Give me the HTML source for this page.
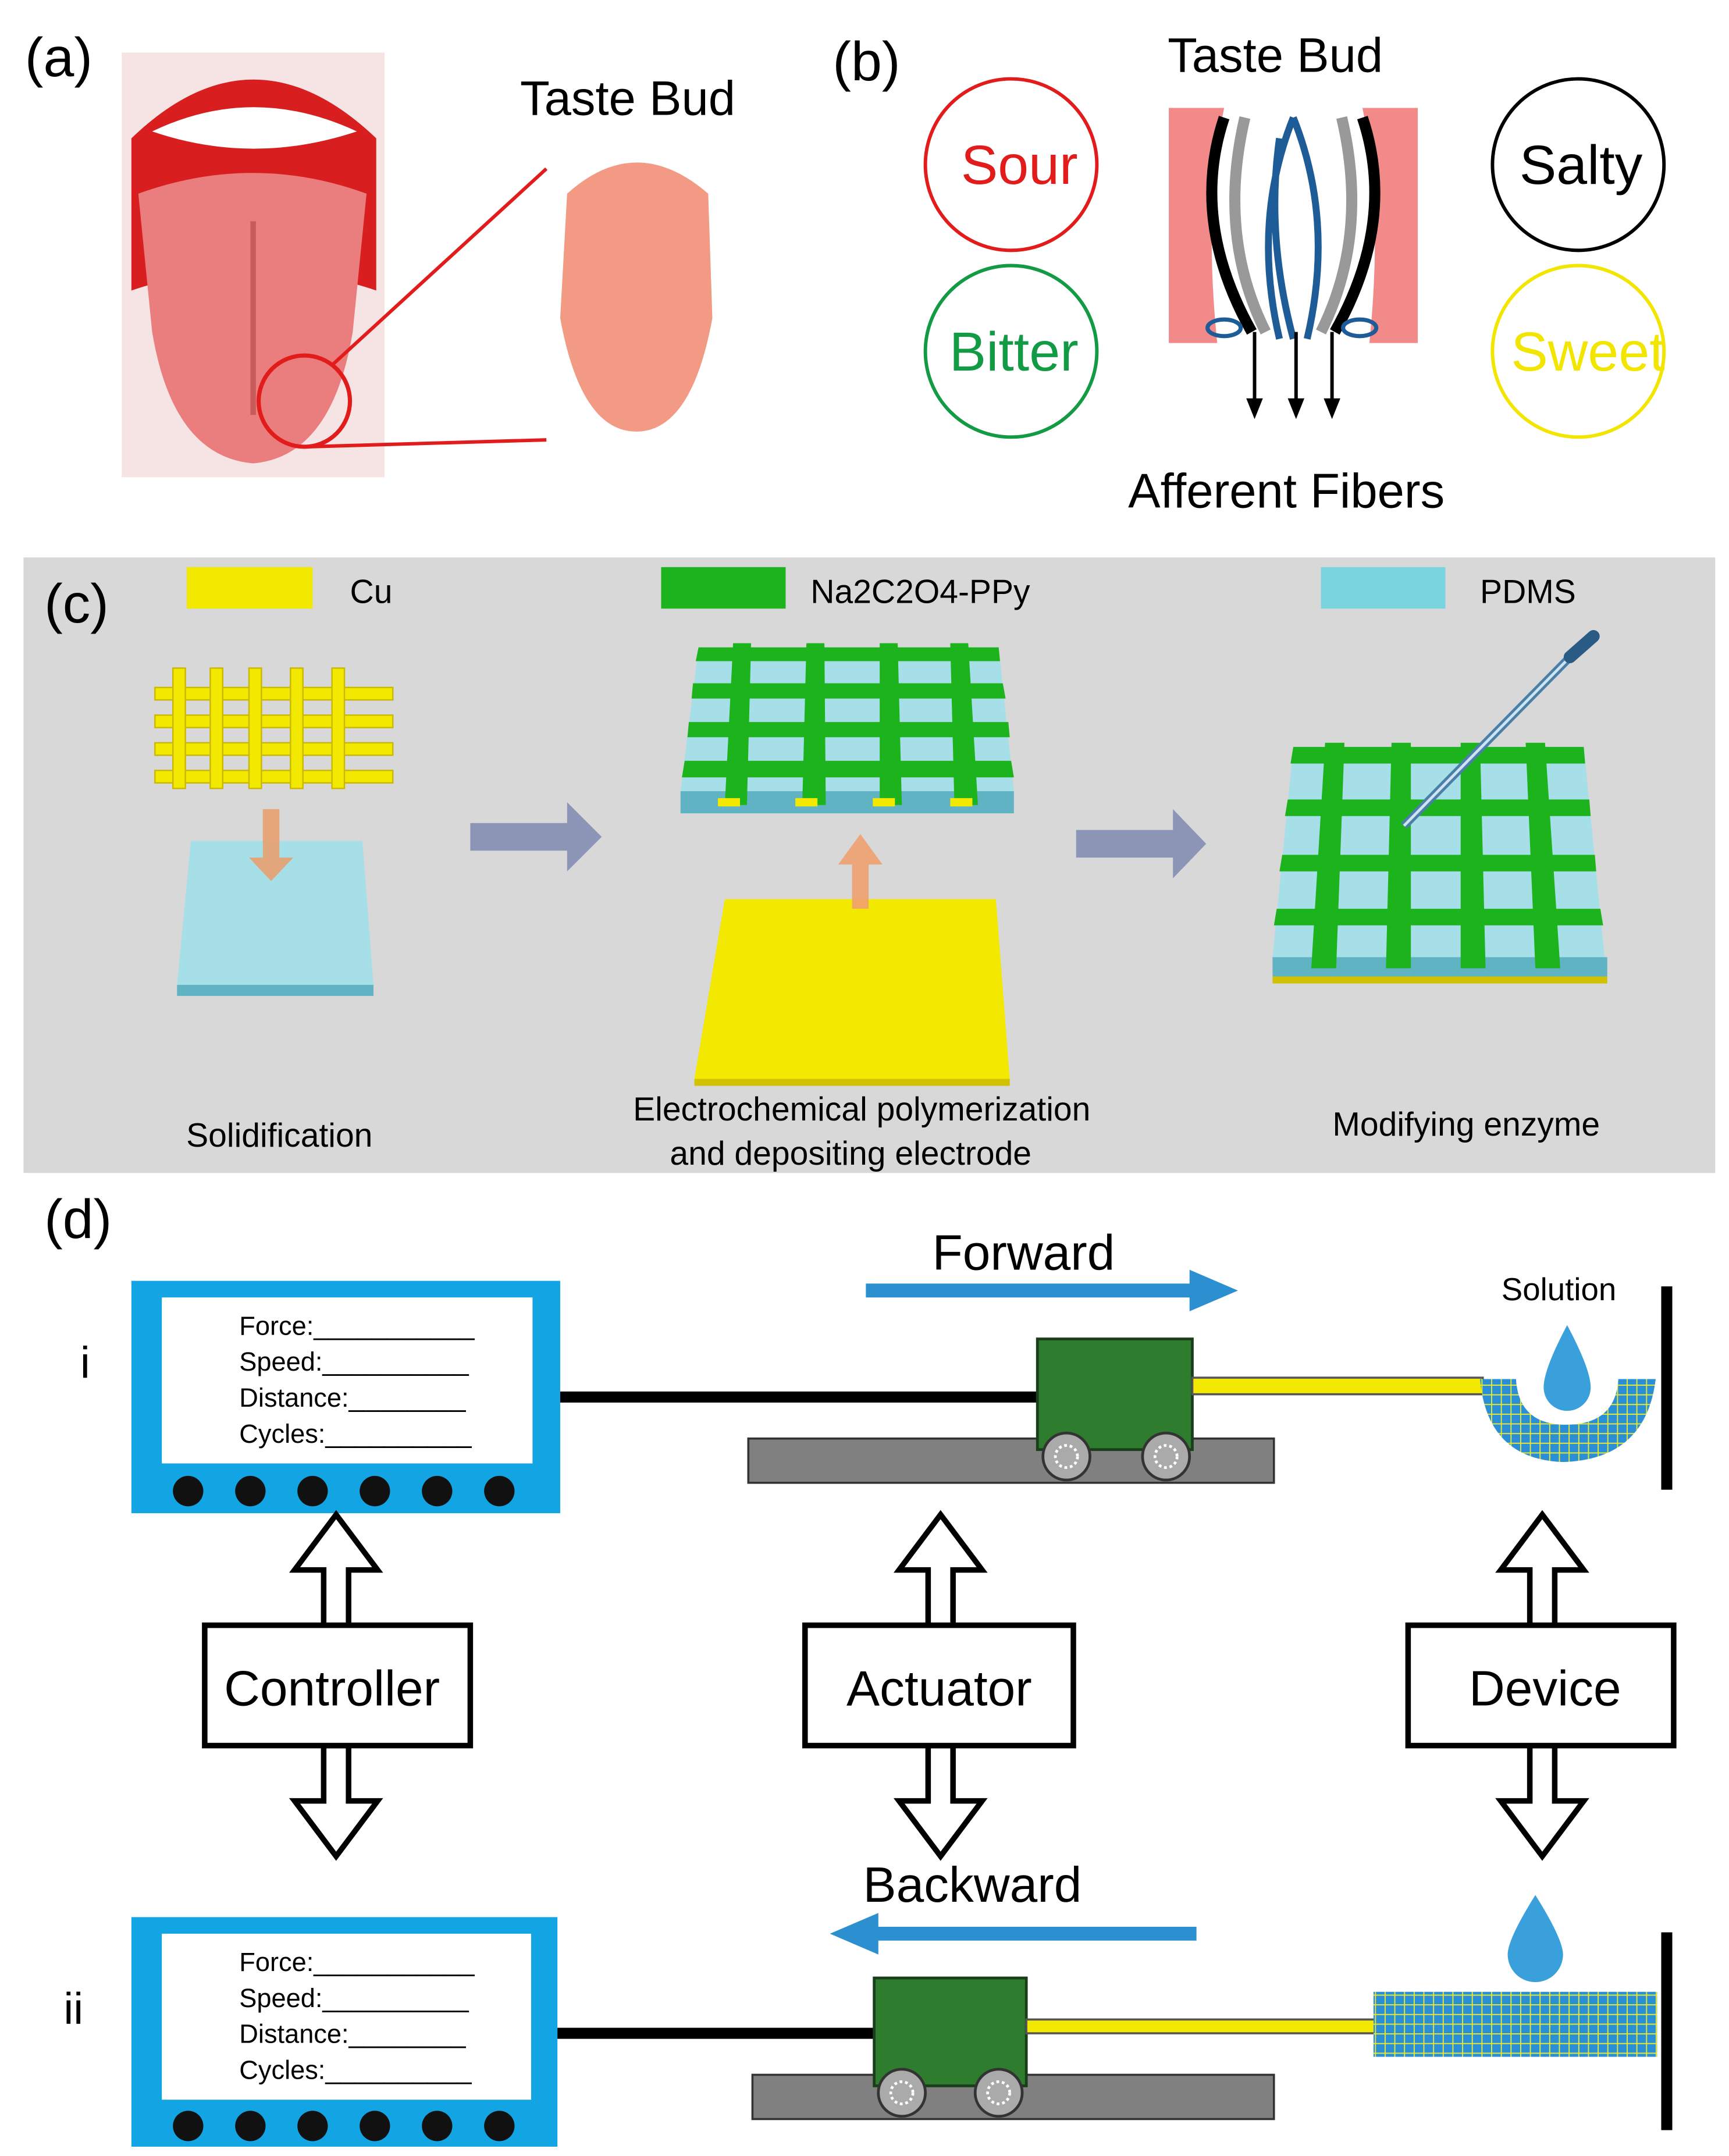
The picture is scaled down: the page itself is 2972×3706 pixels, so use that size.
<!DOCTYPE html>
<html><head><meta charset="utf-8"><style>html,body{margin:0;padding:0;background:#fff}svg{display:block}text{font-family:"Liberation Sans",Arial,sans-serif}</style></head><body>
<svg width="2972" height="3706" viewBox="0 0 1250 1558.7" xmlns="http://www.w3.org/2000/svg">
<defs>
<pattern id="mesh" width="7" height="7" patternUnits="userSpaceOnUse"><rect width="7" height="7" fill="#2a8fd6"/><path d="M0 0H7M0 0V7" stroke="#e8e830" stroke-width="1.6"/></pattern>
<g id="dblu"><path d="M0 0 L30 40 L9 40 L9 80 L-9 80 L-9 40 L-30 40 Z" fill="#fff" stroke="#000" stroke-width="4" stroke-linejoin="miter"/></g>
</defs>
<!-- (a) -->
<text x="18" y="55" font-size="40">(a)</text>
<rect x="88" y="38" width="190" height="307" fill="#f6e4e4"/>
<path d="M95 100 Q183 15 272 100 L272 210 Q183 180 95 210Z" fill="#d81e1e"/>
<path d="M110 95 Q183 60 258 95 Q183 120 110 95Z" fill="#fff"/>
<path d="M100 140 Q183 110 265 140 L255 240 Q240 330 183 335 Q125 330 110 240Z" fill="#ea7d7d"/>
<path d="M183 160 L183 300" stroke="#c85a5a" stroke-width="4"/>
<circle cx="220" cy="290" r="33" fill="none" stroke="#e21b1b" stroke-width="3"/>
<line x1="240" y1="264" x2="395" y2="122" stroke="#e21b1b" stroke-width="2.5"/>
<line x1="222" y1="323" x2="395" y2="318" stroke="#e21b1b" stroke-width="2.5"/>
<path d="M410 140 Q460 95 512 140 L515 230 Q500 312 460 312 Q420 312 405 230Z" fill="#f29a84"/>
<text x="376" y="83" font-size="35">Taste Bud</text>
<!-- (b) -->
<text x="602" y="58" font-size="40">(b)</text>
<circle cx="731" cy="119" r="62" fill="none" stroke="#e21b1b" stroke-width="2.5"/>
<text x="737" y="133" font-size="40" fill="#e21b1b" text-anchor="middle">Sour</text>
<circle cx="731" cy="254" r="62" fill="none" stroke="#129a44" stroke-width="2.5"/>
<text x="733" y="268" font-size="40" fill="#129a44" text-anchor="middle">Bitter</text>
<circle cx="1141" cy="119" r="62" fill="none" stroke="#000" stroke-width="2.5"/>
<text x="1143" y="133" font-size="40" text-anchor="middle">Salty</text>
<circle cx="1141" cy="254" r="62" fill="none" stroke="#f2e600" stroke-width="2.5"/>
<text x="1148" y="268" font-size="40" fill="#f2e600" text-anchor="middle">Sweet</text>
<text x="922" y="52" font-size="35" text-anchor="middle">Taste Bud</text>
<path d="M845 78 L885 78 Q870 150 880 248 L845 248Z" fill="#f28a8a"/>
<path d="M1025 78 L985 78 Q1000 150 990 248 L1025 248Z" fill="#f28a8a"/>
<path d="M885 85 Q860 160 905 240" stroke="#000" stroke-width="8" fill="none"/>
<path d="M985 85 Q1010 160 965 240" stroke="#000" stroke-width="8" fill="none"/>
<path d="M900 85 Q880 170 915 240" stroke="#999" stroke-width="8" fill="none"/>
<path d="M970 85 Q990 170 955 240" stroke="#999" stroke-width="8" fill="none"/>
<path d="M935 85 Q905 160 925 245 M935 85 Q965 160 945 245 M925 100 Q915 170 935 245" stroke="#1d5c96" stroke-width="5" fill="none"/>
<ellipse cx="885" cy="237" rx="12" ry="6" fill="none" stroke="#1d5c96" stroke-width="3"/>
<ellipse cx="983" cy="237" rx="12" ry="6" fill="none" stroke="#1d5c96" stroke-width="3"/>
<path d="M907 240 V295 M937 240 V295 M963 240 V295" stroke="#000" stroke-width="2.5"/>
<path d="M901 288 L907 303 L913 288Z M931 288 L937 303 L943 288Z M957 288 L963 303 L969 288Z"/>
<text x="930" y="367" font-size="35" text-anchor="middle">Afferent Fibers</text>
<!-- (c) -->
<rect x="17" y="403" width="1223" height="445" fill="#d8d8d8"/>
<text x="32" y="450" font-size="40">(c)</text>
<rect x="135" y="410" width="91" height="30" fill="#f2e800"/><text x="253" y="436" font-size="24">Cu</text>
<rect x="478" y="410" width="90" height="30" fill="#1db31d"/><text x="586" y="436" font-size="24">Na2C2O4-PPy</text>
<rect x="955" y="410" width="90" height="30" fill="#7ad4e0"/><text x="1070" y="436" font-size="24">PDMS</text>
<g fill="#f2e800" stroke="#c8b800" stroke-width="1">
<rect x="112" y="497" width="172" height="9"/><rect x="112" y="517" width="172" height="9"/><rect x="112" y="537" width="172" height="9"/><rect x="112" y="557" width="172" height="9"/>
<rect x="125" y="483" width="9" height="87"/><rect x="152" y="483" width="9" height="87"/><rect x="180" y="483" width="9" height="87"/><rect x="210" y="483" width="9" height="87"/><rect x="240" y="483" width="9" height="87"/></g>
<path d="M138 608 L262 608 L270 712 L128 712Z" fill="#a6dfe8"/>
<rect x="128" y="712" width="142" height="8" fill="#5fb3c2"/>
<path d="M190 585 H202 V620 H212 L196 637 L180 620 H190Z" fill="#e9a070" opacity=".9"/>
<path d="M340 595 H410 V580 L435 605 L410 630 V615 H340Z" fill="#8c95b5"/>
<path d="M778 600 H848 V585 L872 610 L848 635 V620 H778Z" fill="#8c95b5"/>
<path d="M505 468 L722 468 L733 572 L492 572Z" fill="#a6dfe8"/>
<rect x="492" y="572" width="241" height="16" fill="#5fb3c2"/>
<g fill="#1db31d"><path d="M505 468 H722 L723 478 H503Z M501 494 H725 L727 505 H500Z M498 522 H729 L730 533 H497Z M495 550 H731 L733 562 H493Z"/>
<path d="M530 465 H543 L540 582 H524Z M583 465 H596 L597 582 H580Z M636 465 H649 L652 582 H636Z M687 465 H700 L707 582 H690Z"/></g>
<g fill="#f2e800"><rect x="519" y="577" width="16" height="6"/><rect x="575" y="577" width="16" height="6"/><rect x="631" y="577" width="16" height="6"/><rect x="687" y="577" width="16" height="6"/></g>
<path d="M524 650 L720 650 L730 780 L502 780Z" fill="#f2e800"/>
<rect x="502" y="780" width="228" height="5" fill="#d0c200"/>
<path d="M616 657 V625 H606 L622 603 L638 625 H628 V657Z" fill="#f0a070" opacity=".9"/>
<path d="M935 540 L1145 540 L1160 692 L920 692Z" fill="#a6dfe8"/>
<rect x="920" y="692" width="242" height="14" fill="#5fb3c2"/><rect x="920" y="706" width="242" height="5" fill="#d0c200"/>
<g fill="#1db31d"><path d="M935 540 H1145 L1146 552 H933Z M931 578 H1149 L1150 590 H929Z M927 618 H1153 L1154 630 H925Z M923 657 H1157 L1159 669 H921Z"/>
<path d="M958 537 H972 L966 700 H948Z M1006 537 H1020 L1020 700 H1002Z M1056 537 H1070 L1074 700 H1056Z M1103 537 H1117 L1128 700 H1110Z"/></g>
<path d="M1015 597 L1140 470" stroke="#4a7fa8" stroke-width="6"/>
<path d="M1015 597 L1140 470" stroke="#cfe4f2" stroke-width="2"/>
<path d="M1135 475 L1152 460" stroke="#2a5b85" stroke-width="9" stroke-linecap="round"/>
<text x="202" y="829" font-size="24" text-anchor="middle">Solidification</text>
<text x="623" y="810" font-size="24" text-anchor="middle">Electrochemical polymerization</text>
<text x="615" y="842" font-size="24" text-anchor="middle">and depositing electrode</text>
<text x="1060" y="821" font-size="24" text-anchor="middle">Modifying enzyme</text>
<!-- (d) -->
<text x="32" y="895" font-size="40">(d)</text>
<text x="58" y="996" font-size="32">i</text>
<text x="46" y="1463" font-size="32">ii</text>
<rect x="95" y="926" width="310" height="168" fill="#13a5e3"/>
<rect x="117" y="938" width="268" height="120" fill="#fff"/>
<g font-size="19"><text x="173" y="965">Force:___________</text><text x="173" y="991">Speed:__________</text><text x="173" y="1017">Distance:________</text><text x="173" y="1043">Cycles:__________</text></g>
<g fill="#111"><circle cx="136" cy="1078" r="11"/><circle cx="181" cy="1078" r="11"/><circle cx="226" cy="1078" r="11"/><circle cx="271" cy="1078" r="11"/><circle cx="316" cy="1078" r="11"/><circle cx="361" cy="1078" r="11"/></g>
<rect x="405" y="1006" width="345" height="8" fill="#000"/>
<rect x="541" y="1040" width="380" height="32" fill="#808080" stroke="#333" stroke-width="1.5"/>
<rect x="750" y="968" width="112" height="80" fill="#2e7d2e" stroke="#1a3d1a" stroke-width="2"/>
<circle cx="771" cy="1053" r="17" fill="#aaa" stroke="#333" stroke-width="2"/><circle cx="771" cy="1053" r="8" fill="none" stroke="#fff" stroke-width="2" stroke-dasharray="2 2"/>
<circle cx="843" cy="1053" r="17" fill="#aaa" stroke="#333" stroke-width="2"/><circle cx="843" cy="1053" r="8" fill="none" stroke="#fff" stroke-width="2" stroke-dasharray="2 2"/>
<rect x="862" y="996" width="210" height="12" fill="#f2e800" stroke="#555" stroke-width="1.5"/>
<path d="M1070 997 H1197 Q1190 1055 1130 1057 Q1075 1055 1070 997Z M1096 997 Q1098 1030 1132 1030 Q1168 1030 1170 997Z" fill="url(#mesh)" fill-rule="evenodd"/>
<path d="M1133 958 Q1150 990 1150 1003 A17 17 0 0 1 1116 1003 Q1116 990 1133 958Z" fill="#3aa0dc"/>
<text x="1127" y="940" font-size="23" text-anchor="middle">Solution</text>
<rect x="1201" y="930" width="8" height="147" fill="#000"/>
<text x="740" y="918" font-size="36" text-anchor="middle">Forward</text>
<path d="M626 928 H860 V918 L895 933 L860 948 V938 H626Z" fill="#2b8fd0"/>
<g transform="translate(243,1095)"><use href="#dblu"/></g>
<g transform="translate(243,1342) scale(1,-1)"><use href="#dblu"/></g>
<rect x="148" y="1175" width="192" height="87" fill="#fff" stroke="#000" stroke-width="4"/>
<text x="240" y="1233" font-size="36" text-anchor="middle">Controller</text>
<g transform="translate(680,1095)"><use href="#dblu"/></g>
<g transform="translate(680,1342) scale(1,-1)"><use href="#dblu"/></g>
<rect x="582" y="1175" width="194" height="87" fill="#fff" stroke="#000" stroke-width="4"/>
<text x="679" y="1233" font-size="36" text-anchor="middle">Actuator</text>
<g transform="translate(1115,1095)"><use href="#dblu"/></g>
<g transform="translate(1115,1342) scale(1,-1)"><use href="#dblu"/></g>
<rect x="1018" y="1175" width="192" height="87" fill="#fff" stroke="#000" stroke-width="4"/>
<text x="1117" y="1233" font-size="36" text-anchor="middle">Device</text>
<text x="703" y="1375" font-size="36" text-anchor="middle">Backward</text>
<path d="M865 1393 H635 V1383 L600 1398 L635 1413 V1403 H865Z" fill="#2b8fd0"/>
<rect x="95" y="1386" width="308" height="166" fill="#13a5e3"/>
<rect x="117" y="1398" width="267" height="120" fill="#fff"/>
<g font-size="19"><text x="173" y="1425">Force:___________</text><text x="173" y="1451">Speed:__________</text><text x="173" y="1477">Distance:________</text><text x="173" y="1503">Cycles:__________</text></g>
<g fill="#111"><circle cx="136" cy="1537" r="11"/><circle cx="181" cy="1537" r="11"/><circle cx="226" cy="1537" r="11"/><circle cx="271" cy="1537" r="11"/><circle cx="316" cy="1537" r="11"/><circle cx="361" cy="1537" r="11"/></g>
<rect x="403" y="1466" width="229" height="8" fill="#000"/>
<rect x="544" y="1500" width="377" height="32" fill="#808080" stroke="#333" stroke-width="1.5"/>
<rect x="632" y="1430" width="110" height="78" fill="#2e7d2e" stroke="#1a3d1a" stroke-width="2"/>
<circle cx="652" cy="1513" r="17" fill="#aaa" stroke="#333" stroke-width="2"/><circle cx="652" cy="1513" r="8" fill="none" stroke="#fff" stroke-width="2" stroke-dasharray="2 2"/>
<circle cx="722" cy="1513" r="17" fill="#aaa" stroke="#333" stroke-width="2"/><circle cx="722" cy="1513" r="8" fill="none" stroke="#fff" stroke-width="2" stroke-dasharray="2 2"/>
<rect x="742" y="1460" width="252" height="10" fill="#f2e800" stroke="#555" stroke-width="1.5"/>
<rect x="993" y="1440" width="205" height="47" fill="url(#mesh)"/>
<path d="M1110 1370 Q1130 1402 1130 1413 A19 19 0 0 1 1090 1413 Q1090 1402 1110 1370Z" fill="#3aa0dc"/>
<rect x="1201" y="1397" width="8" height="143" fill="#000"/>
</svg>
</body></html>
